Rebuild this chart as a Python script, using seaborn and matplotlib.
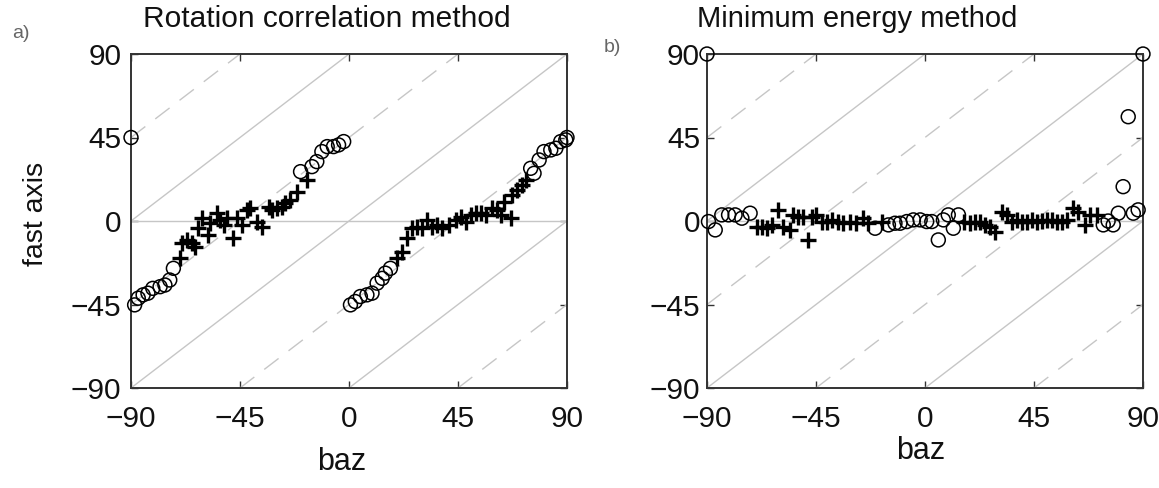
import numpy as np
import pandas as pd
import matplotlib
matplotlib.use('Agg')
import matplotlib.pyplot as plt
import seaborn as sns

# a) Rotation correlation method
rc_circle_baz = [-90, -88.5, -87, -85, -83, -81, -78, -76, -74, -72.5,
                 -20, -15.3, -13.3, -11.2, -9, -6.4, -4.3, -2.2,
                 0.6, 2.6, 4.7, 7.4, 9.5, 11.6, 13.7, 15, 17.1,
                 75, 76.4, 78.5, 80.5, 83.3, 85.4, 87.4, 89.5, 90]
rc_circle_fast = [45, -45.2, -41.6, -39.8, -38.9, -36.3, -35.4, -34.5, -31.8, -25.5,
                  26.6, 29.3, 32, 37.4, 40.1, 40.1, 41, 42.8,
                  -45.2, -43.4, -40.7, -39.8, -38.9, -33.5, -30.9, -28.1, -25.5,
                  28.4, 25.7, 32.9, 37.4, 38.3, 39.2, 42.8, 43.7, 45]
rc_plus_baz = [-69.8, -69.1, -67, -65, -63.6, -62.2, -60.8, -58.1, -57.4, -54.6,
               -53.2, -51.8, -50.5, -47.7, -46.3, -44.3, -42.2, -40.8, -38.1, -36,
               -33.2, -31.8, -29.8, -27.7, -26.3, -24.3, -21.5, -17.4,
               19.8, 21.9, 24, 26.1, 28.1, 30.2, 32.3, 34.3, 36.4, 38.5,
               41.2, 44, 46.1, 48.1, 50.2, 52.3, 54.4, 56.4, 59.2, 61.2,
               62.6, 64, 66.8, 67.4, 69.5, 71.5, 73]
rc_plus_fast = [-20, -12, -10.2, -12, -13.8, -3.9, 1.5, -7.5, -1.2, 4.2,
                0.6, -2.1, 1.5, -9.3, 1.5, -2.1, 5.9, 6.8, -0.3, -3,
                7.7, 6, 6.8, 7.7, 9.6, 11.3, 15.8, 22.1,
                -20, -16.5, -9.3, -3.9, -3, -3.9, 0.6, -3, -2.1, -3.9,
                -2.1, 0.6, 2.3, -0.3, 3.3, 4.2, 4.2, 3.3, 6.8, 6,
                3.3, 10.4, 1.5, 14, 16.7, 19.4, 22.1]

# b) Minimum energy method
me_circle_baz = [-90, -89.4, -86.6, -83.9, -81.1, -78.4, -75.6, -72.2,
                 -20.6, -15.1, -12.4, -10.3, -7.5, -4.8, -2, 0.7, 2.8, 5.5,
                 7.6, 9.6, 11.7, 13.8,
                 73.6, 75.6, 77.7, 79.8, 81.8, 83.9, 86, 88, 90]
me_circle_fast = [90, -0.3, -4.8, 3.3, 3.3, 3.3, 1.5, 4.2,
                  -3.9, -2.1, -1.2, -1.2, -0.3, 0.6, 0.6, -0.3, -0.3, -10.2,
                  0.6, 3.3, -3.9, 3.3,
                  -2.1, 0, -2.1, 4.2, 18.5, 56.2, 4.2, 6, 90]
me_plus_baz = [-69.4, -67.4, -65.3, -63.3, -60.5, -58.5, -55.7, -54.3, -52.3, -50.2,
               -48.2, -46.8, -44.8, -42.7, -40.6, -38.6, -35.9, -33.8, -31.1, -28.3,
               -25.6, -23.5, -17.9,
               15.9, 18.6, 20.6, 22.7, 24.8, 26.8, 28.9, 31.6, 33.7, 35.8,
               37.8, 39.9, 42, 44, 46.1, 48.2, 50.2, 52.3, 54.3, 56.4,
               58.5, 61.2, 63.3, 66, 68.1, 70.9]
me_plus_fast = [-3, -3, -3.9, -2.1, 5.9, -3, -4.8, 3.3, 2.3, 2.3,
                -10.2, 2.3, 3.3, -0.3, -0.3, 0.6, -0.3, -1.2, -0.3, -1.2,
                1.5, -1.2, -0.3,
                -0.3, -1.2, -0.3, -0.3, -2.1, -3, -5.7, 5, 3.3, -0.3,
                0.6, -0.3, -0.3, 0.6, -0.3, 0, 0.6, 0.6, -0.3, -0.3,
                0.6, 6.8, 5, -2.1, 3.3, 3.3]

ticks = [-90, -45, 0, 45, 90]
guide_offsets = [-135, -90, -45, 0, 45, 90, 135]

sns.set_style('ticks')
plt.rcParams['font.family'] = ['Liberation Sans', 'DejaVu Sans']

W, H = 1159, 488
fig = plt.figure(figsize=(W / 100, H / 100), dpi=100)
ax1 = fig.add_axes([131 / W, 1 - 388 / H, 436 / W, 334 / H])
ax2 = fig.add_axes([707 / W, 1 - 388 / H, 436 / W, 334 / H])


def draw_panel(ax, cb, cf, pb, pf, ypad):
    for off in guide_offsets:
        ls = '-' if off % 90 == 0 else (0, (13, 9))
        ax.axline((0, off), slope=1, color='#c6c6c6', lw=1.0, ls=ls, zorder=1)
    ax.axhline(0, color='#c6c6c6', lw=1.0, zorder=1)
    sns.scatterplot(x=pb, y=pf, marker='+', s=125, color='k', linewidth=2.4,
                    ax=ax, zorder=3, clip_on=False)
    sns.scatterplot(x=cb, y=cf, marker='o', s=100, facecolor='none', edgecolor='k',
                    linewidth=1.1, ax=ax, zorder=4, clip_on=False)
    ax.set_xlim(-90, 90)
    ax.set_ylim(-90, 90)
    ax.set_xticks(ticks)
    ax.set_yticks(ticks)
    ax.set_xlabel('')
    ax.set_ylabel('')
    ax.tick_params(direction='in', top=True, right=True, length=5, width=1,
                   color='#333333', labelsize=21.5, labelcolor='#111111')
    ax.tick_params(axis='y', pad=ypad)
    ax.tick_params(axis='x', pad=12)
    for sp in ax.spines.values():
        sp.set_visible(True)
        sp.set_linewidth(1.4)
        sp.set_color('#333333')


draw_panel(ax1, rc_circle_baz, rc_circle_fast, rc_plus_baz, rc_plus_fast, 7)
draw_panel(ax2, me_circle_baz, me_circle_fast, me_plus_baz, me_plus_fast, 5)

fig.text(327 / W, 1 - 19 / H, 'Rotation correlation method', fontsize=21.5,
         ha='center', va='center', color='#111111')
fig.text(857 / W, 1 - 19 / H, 'Minimum energy method', fontsize=21,
         ha='center', va='center', color='#111111')
fig.text(342 / W, 1 - 462 / H, 'baz', fontsize=22, ha='center', va='center', color='#111111')
fig.text(921 / W, 1 - 451 / H, 'baz', fontsize=22, ha='center', va='center', color='#111111')
fig.text(36 / W, 1 - 214 / H, 'fast axis', fontsize=20.5, rotation=90,
         ha='center', va='center', color='#111111')
fig.text(21 / W, 1 - 33 / H, 'a)', fontsize=14, ha='center', va='center', color='#666666')
fig.text(612 / W, 1 - 47 / H, 'b)', fontsize=14, ha='center', va='center', color='#666666')

fig.savefig('out.png', dpi=100)
